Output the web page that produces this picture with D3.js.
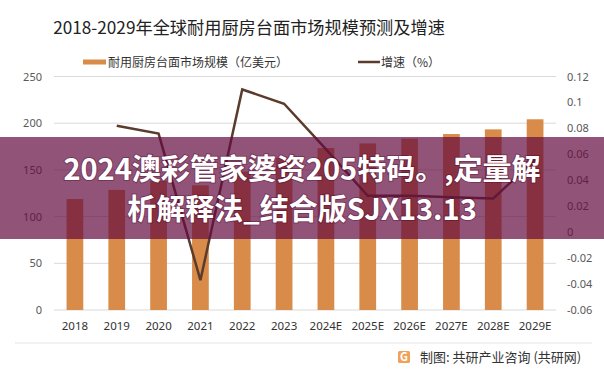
<!DOCTYPE html>
<html>
<head>
<meta charset="utf-8">
<script src="https://cdn.jsdelivr.net/npm/d3@7"></script>
<style>
  body { margin: 0; background: #fff; }
  svg { display: block; font-family: "Noto Sans CJK SC", "Noto Sans", sans-serif; }
</style>
</head>
<body>
<svg id="chart" width="604" height="376"></svg>
<script>
const years = ["2018", "2019", "2020", "2021", "2022", "2023", "2024E", "2025E", "2026E", "2027E", "2028E", "2029E"];
const marketSize = [118.8, 128.6, 138.3, 133.5, 148.2, 162.9, 173.4, 178.3, 183.4, 188.4, 193.4, 204.2];
const growth = [null, 0.082, 0.076, -0.037, 0.11, 0.099, 0.064, 0.028, 0.028, 0.027, 0.026, 0.056];
const leftTicks = [0, 50, 100, 150, 200, 250];
const rightTicks = [-0.06, -0.04, -0.02, 0, 0.02, 0.04, 0.06, 0.08, 0.1, 0.12];

const barColor = "#d98b4a";
const lineColor = "#5a3b2c";

const svg = d3.select("#chart");

const x = d3.scaleBand().domain(years).range([54, 556]).paddingInner(0.6).paddingOuter(0.3);
const yL = d3.scaleLinear().domain([0, 250]).range([310, 76.5]);
const yR = d3.scaleLinear().domain([-0.06, 0.12]).range([310, 76.5]);

// title
svg.append("text")
  .attr("x", 249).attr("y", 34)
  .attr("text-anchor", "middle")
  .attr("font-size", "17.2px")
  .attr("fill", "#222")
  .text("2018-2029年全球耐用厨房台面市场规模预测及增速");

// legend
svg.append("rect").attr("x", 83).attr("y", 59.5).attr("width", 23).attr("height", 5).attr("fill", barColor);
svg.append("text").attr("x", 108).attr("y", 66.5).attr("font-size", "12px").attr("fill", "#333")
  .text("耐用厨房台面市场规模（亿美元）");
svg.append("line").attr("x1", 358).attr("x2", 380).attr("y1", 62).attr("y2", 62)
  .attr("stroke", lineColor).attr("stroke-width", 2.5);
svg.append("text").attr("x", 381).attr("y", 66.5).attr("font-size", "12px").attr("fill", "#333")
  .text("增速（%）");

// gridlines
svg.append("g")
  .selectAll("line")
  .data(leftTicks)
  .join("line")
  .attr("x1", 54).attr("x2", 556)
  .attr("y1", (d) => yL(d)).attr("y2", (d) => yL(d))
  .attr("stroke", "#d9d9d9").attr("stroke-width", 1);

// left axis
const axL = svg.append("g")
  .attr("transform", "translate(48,0)")
  .call(d3.axisLeft(yL).tickValues(leftTicks).tickSize(0).tickPadding(6));
axL.select(".domain").remove();
axL.selectAll("text").attr("font-size", "11px").attr("fill", "#595959").attr("font-family", "Noto Sans, sans-serif");

// right axis
const axR = svg.append("g")
  .attr("transform", "translate(561,0)")
  .call(d3.axisRight(yR).tickValues(rightTicks).tickFormat((d) => String(d)).tickSize(0).tickPadding(6));
axR.select(".domain").remove();
axR.selectAll("text").attr("font-size", "11px").attr("fill", "#595959").attr("font-family", "Noto Sans, sans-serif");

// bottom axis
const axB = svg.append("g")
  .attr("transform", "translate(0,310)")
  .call(d3.axisBottom(x).tickSize(0).tickPadding(12));
axB.select(".domain").remove();
axB.selectAll("text").attr("font-size", "11.5px").attr("fill", "#333").attr("font-family", "Noto Sans, sans-serif");

// bars
svg.append("g")
  .selectAll("rect")
  .data(years)
  .join("rect")
  .attr("x", (d) => x(d))
  .attr("width", x.bandwidth())
  .attr("y", (d, i) => yL(marketSize[i]))
  .attr("height", (d, i) => yL(0) - yL(marketSize[i]))
  .attr("fill", barColor);

// growth line
const line = d3.line()
  .defined((d) => d.v !== null)
  .x((d) => x(d.year) + x.bandwidth() / 2)
  .y((d) => yR(d.v));
svg.append("path")
  .datum(years.map((year, i) => ({ year, v: growth[i] })))
  .attr("d", line)
  .attr("fill", "none")
  .attr("stroke", lineColor)
  .attr("stroke-width", 2.5)
  .attr("stroke-linejoin", "miter");

// bottom separator and source
svg.append("line").attr("x1", 15).attr("x2", 592).attr("y1", 343).attr("y2", 343)
  .attr("stroke", "#e3e3e3").attr("stroke-width", 1);
const logo = svg.append("g").attr("transform", "translate(398,351)");
logo.append("rect").attr("width", 12).attr("height", 12).attr("rx", 1.5).attr("fill", "#f0a25a");
logo.append("text").attr("x", 6).attr("y", 10).attr("text-anchor", "middle")
  .attr("font-size", "11px").attr("font-weight", "bold").attr("fill", "#fff").text("G");
svg.append("text").attr("x", 420).attr("y", 362).attr("font-size", "13px").attr("fill", "#333")
  .text("制图: 共研产业咨询 (共研网)");

// overlay banner
svg.append("rect").attr("x", 0).attr("y", 137).attr("width", 604).attr("height", 102)
  .attr("fill", "rgb(100,10,62)").attr("fill-opacity", 0.7);
const banner = svg.append("g")
  .attr("font-size", "29px")
  .attr("font-weight", "bold")
  .attr("fill", "#fff")
  .attr("text-anchor", "middle")
  .style("paint-order", "stroke")
  .attr("stroke", "rgba(60,0,30,0.35)")
  .attr("stroke-width", 2);
banner.append("text").attr("x", 302).attr("y", 180).text("2024澳彩管家婆资205特码。,定量解");
banner.append("text").attr("x", 302).attr("y", 220).text("析解释法_结合版SJX13.13");
</script>
</body>
</html>
